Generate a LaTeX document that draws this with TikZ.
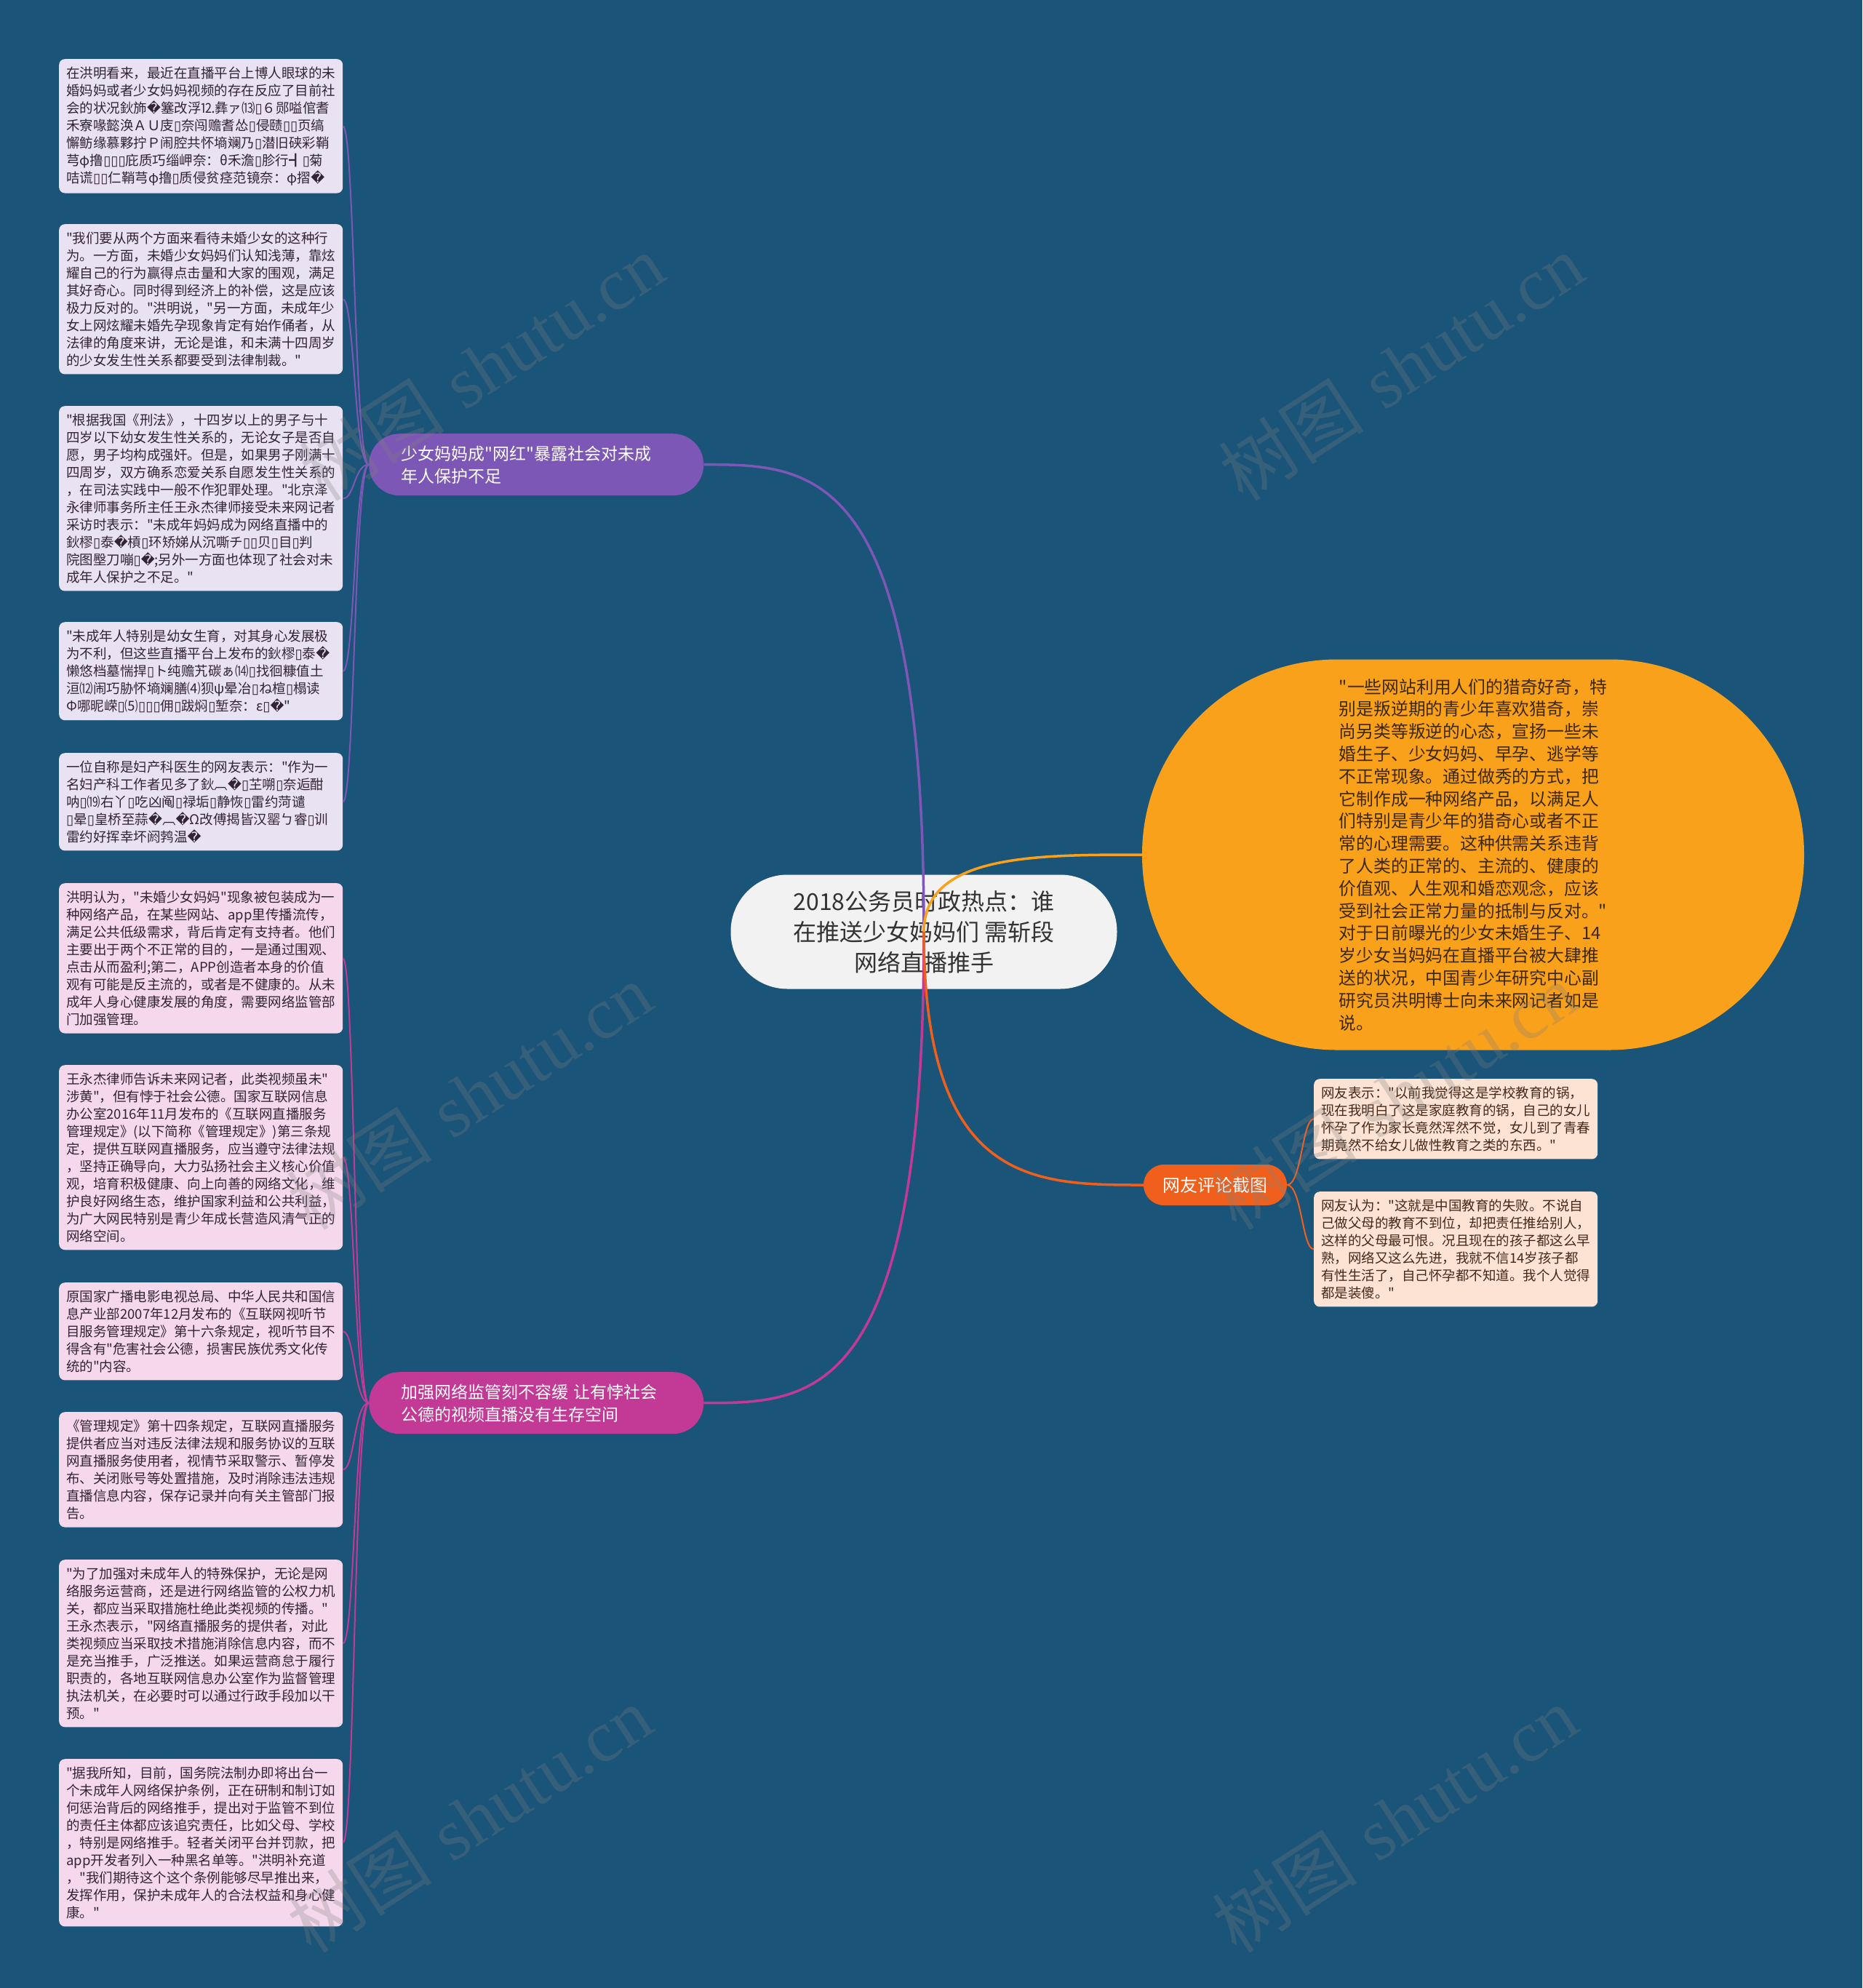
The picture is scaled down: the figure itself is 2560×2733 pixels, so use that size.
\documentclass[tikz,border=0pt]{standalone}
\usepackage{fontspec}
\setmainfont{Noto Sans CJK SC}[Ligatures=TeXOff]
\newfontfamily\dvfont{DejaVu Sans}
\newfontfamily\wmfont{Liberation Serif}
\newcommand{\rc}{{\dvfont\char"FFFD\relax}}
\newcommand{\tofu}{{\dvfont\char"25AF\relax}}
\usetikzlibrary{calc}
\definecolor{bg}{RGB}{26,84,120}
\definecolor{lav}{RGB}{232,226,242}
\definecolor{pinkbox}{RGB}{245,216,235}
\definecolor{peach}{RGB}{253,227,211}
\definecolor{leaftxt}{RGB}{50,36,52}
\definecolor{peachtxt}{RGB}{70,40,25}
\definecolor{purp}{RGB}{125,87,181}
\definecolor{mag}{RGB}{194,57,150}
\definecolor{gold}{RGB}{249,161,27}
\definecolor{redor}{RGB}{240,96,28}
\definecolor{rootfill}{RGB}{242,242,242}
\definecolor{roottxt}{RGB}{51,51,51}
\definecolor{elltxt}{RGB}{60,40,10}
\begin{document}
\begin{tikzpicture}[x=1pt,y=-1pt,
  leafA/.style={anchor=north west,text width=370pt,align=left,inner xsep=10pt,inner ysep=10.5pt,rounded corners=8pt,fill=lav,text=leaftxt,font=\fontsize{18.5}{24}\selectfont},
  leafB/.style={leafA,fill=pinkbox},
  leafC/.style={leafA,fill=peach,text=peachtxt},
  mainbr/.style={anchor=north west,text=white,align=left,text width=372pt,inner xsep=44pt,minimum height=85pt,rounded corners=42pt,font=\fontsize{23}{31}\selectfont},
  rootbox/.style={minimum width=531pt,minimum height=157pt,rounded corners=78pt,fill=rootfill,text=roottxt,align=center,font=\fontsize{32}{42}\selectfont},
  ellbox/.style={minimum width=910pt,minimum height=537pt,rounded corners=268pt,fill=gold,text=elltxt,align=left,font=\fontsize{23.8}{30.8}\selectfont},
  brthree/.style={minimum width=197pt,minimum height=56pt,rounded corners=28pt,fill=redor,text=white,font=\fontsize{24}{30}\selectfont},
  conn/.style={line width=3.5pt},
  leafline/.style={line width=2pt},
  wm/.style={rotate=33,text=gray,text opacity=0.28,font=\fontsize{100}{100}\selectfont}
]
\useasboundingbox (0,0) rectangle (2560,2733);
\fill[bg] (0,0) rectangle (2560,2733);

% root
\node[rootbox] (root) at (1270,1281) {2018公务员时政热点：谁\\在推送少女妈妈们 需斩段\\网络直播推手};

% main branches
\node[mainbr,fill=purp] (b1) at (507,596) {少女妈妈成"网红"暴露社会对未成\\年人保护不足};
\node[mainbr,fill=mag] (b2) at (507,1886) {加强网络监管刻不容缓 让有悖社会\\公德的视频直播没有生存空间};
\node[ellbox] (ell) at (2025,1175) {"一些网站利用人们的猎奇好奇，特\\别是叛逆期的青少年喜欢猎奇，崇\\尚另类等叛逆的心态，宣扬一些未\\婚生子、少女妈妈、早孕、逃学等\\不正常现象。通过做秀的方式，把\\它制作成一种网络产品，以满足人\\们特别是青少年的猎奇心或者不正\\常的心理需要。这种供需关系违背\\了人类的正常的、主流的、健康的\\价值观、人生观和婚恋观念，应该\\受到社会正常力量的抵制与反对。"\\对于日前曝光的少女未婚生子、14\\岁少女当妈妈在直播平台被大肆推\\送的状况，中国青少年研究中心副\\研究员洪明博士向未来网记者如是\\说。};
\node[brthree] (b3) at (1670.5,1629) {网友评论截图};

% left upper leaves
\node[leafA] (c1) at (81,81) {在洪明看来，最近在直播平台上博人眼球的未\\婚妈妈或者少女妈妈视频的存在反应了目前社\\会的状况鈥斾\rc{}簺改浮⒓彝ァ⒀\tofu{}６郧嗌倌耆\\禾寮喙懿涣ＡＵ庋\tofu{}奈闯赡耆怂\tofu{}侵赜\tofu{}\tofu{}页缟\\懈鲂缘慕夥拧Ｐ闹腔共怀墒斓乃\tofu{}潜旧硖彩鞘\\芎φ撸\tofu{}\tofu{}\tofu{}庇质巧缁岬奈：θ禾澹\tofu{}胗行┫\tofu{}菊\\咭谎\tofu{}\tofu{}仁鞘芎φ撸\tofu{}质侵贫痉范镜奈：φ摺\rc{}};
\node[leafA] (c2) at (81,308) {"我们要从两个方面来看待未婚少女的这种行\\为。一方面，未婚少女妈妈们认知浅薄，靠炫\\耀自己的行为赢得点击量和大家的围观，满足\\其好奇心。同时得到经济上的补偿，这是应该\\极力反对的。"洪明说，"另一方面，未成年少\\女上网炫耀未婚先孕现象肯定有始作俑者，从\\法律的角度来讲，无论是谁，和未满十四周岁\\的少女发生性关系都要受到法律制裁。"};
\node[leafA] (c3) at (81,558) {"根据我国《刑法》，十四岁以上的男子与十\\四岁以下幼女发生性关系的，无论女子是否自\\愿，男子均构成强奸。但是，如果男子刚满十\\四周岁，双方确系恋爱关系自愿发生性关系的\\，在司法实践中一般不作犯罪处理。"北京泽\\永律师事务所主任王永杰律师接受未来网记者\\采访时表示："未成年妈妈成为网络直播中的\\鈥樛\tofu{}泰\rc{}槓\tofu{}环矫娣从沉嘶チ\tofu{}\tofu{}贝\tofu{}目\tofu{}判\\院图壂刀嘣\tofu{}\rc{};另外一方面也体现了社会对未\\成年人保护之不足。"};
\node[leafA] (c4) at (81,855) {"未成年人特别是幼女生育，对其身心发展极\\为不利，但这些直播平台上发布的鈥樛\tofu{}泰\rc{}\\懒悠档墓惴捍\tofu{}ト纯赡艽碳ぁ⒁\tofu{}找徊糠值土\\洹⑿闹巧胁怀墒斓膳⑷狈ψ晕冶\tofu{}ね楦\tofu{}榻读\\Φ哪昵嵘\tofu{}⑸\tofu{}\tofu{}\tofu{}佣\tofu{}跋焖\tofu{}堑奈：ε\tofu{}\rc{}"};
\node[leafA] (c5) at (81,1035) {一位自称是妇产科医生的网友表示："作为一\\名妇产科工作者见多了鈥︹\rc{}\tofu{}芏嗍\tofu{}奈逅酣\\呐\tofu{}⒆右丫\tofu{}吃凶阄\tofu{}禄垢\tofu{}静恢\tofu{}雷约菏谴\\\tofu{}晕\tofu{}皇桥至蒜\rc{}︹\rc{}Ω改傅揭皆汉罂ㄅ睿\tofu{}训\\雷约好挥幸坏阏鹁温\rc{}};

% left lower leaves
\node[leafB] (c6) at (81,1214) {洪明认为，"未婚少女妈妈"现象被包装成为一\\种网络产品，在某些网站、app里传播流传，\\满足公共低级需求，背后肯定有支持者。他们\\主要出于两个不正常的目的，一是通过围观、\\点击从而盈利;第二，APP创造者本身的价值\\观有可能是反主流的，或者是不健康的。从未\\成年人身心健康发展的角度，需要网络监管部\\门加强管理。};
\node[leafB] (c7) at (81,1464) {王永杰律师告诉未来网记者，此类视频虽未"\\涉黄"，但有悖于社会公德。国家互联网信息\\办公室2016年11月发布的《互联网直播服务\\管理规定》(以下简称《管理规定》)第三条规\\定，提供互联网直播服务，应当遵守法律法规\\，坚持正确导向，大力弘扬社会主义核心价值\\观，培育积极健康、向上向善的网络文化，维\\护良好网络生态，维护国家利益和公共利益，\\为广大网民特别是青少年成长营造风清气正的\\网络空间。};
\node[leafB] (c8) at (81,1763) {原国家广播电影电视总局、中华人民共和国信\\息产业部2007年12月发布的《互联网视听节\\目服务管理规定》第十六条规定，视听节目不\\得含有"危害社会公德，损害民族优秀文化传\\统的"内容。};
\node[leafB] (c9) at (81,1941) {《管理规定》第十四条规定，互联网直播服务\\提供者应当对违反法律法规和服务协议的互联\\网直播服务使用者，视情节采取警示、暂停发\\布、关闭账号等处置措施，及时消除违法违规\\直播信息内容，保存记录并向有关主管部门报\\告。};
\node[leafB] (c10) at (81,2144) {"为了加强对未成年人的特殊保护，无论是网\\络服务运营商，还是进行网络监管的公权力机\\关，都应当采取措施杜绝此类视频的传播。"\\王永杰表示，"网络直播服务的提供者，对此\\类视频应当采取技术措施消除信息内容，而不\\是充当推手，广泛推送。如果运营商怠于履行\\职责的，各地互联网信息办公室作为监督管理\\执法机关，在必要时可以通过行政手段加以干\\预。"};
\node[leafB] (c11) at (81,2418) {"据我所知，目前，国务院法制办即将出台一\\个未成年人网络保护条例，正在研制和制订如\\何惩治背后的网络推手，提出对于监管不到位\\的责任主体都应该追究责任，比如父母、学校\\，特别是网络推手。轻者关闭平台并罚款，把\\app开发者列入一种黑名单等。"洪明补充道\\，"我们期待这个这个条例能够尽早推出来，\\发挥作用，保护未成年人的合法权益和身心健\\康。"};

% right leaves
\node[leafC] (r1) at (1806,1483) {网友表示："以前我觉得这是学校教育的锅，\\现在我明白了这是家庭教育的锅，自己的女儿\\怀孕了作为家长竟然浑然不觉，女儿到了青春\\期竟然不给女儿做性教育之类的东西。"};
\node[leafC] (r2) at (1806,1638) {网友认为："这就是中国教育的失败。不说自\\己做父母的教育不到位，却把责任推给别人，\\这样的父母最可恨。况且现在的孩子都这么早\\熟，网络又这么先进，我就不信14岁孩子都\\有性生活了，自己怀孕都不知道。我个人觉得\\都是装傻。"};

% main connectors
\draw[conn,purp] (root.center) .. controls (root.center |- b1.east) and ([xshift=150pt]b1.east) .. (b1.east);
\draw[conn,mag] (root.center) .. controls (root.center |- b2.east) and ([xshift=150pt]b2.east) .. (b2.east);
\draw[conn,gold] (root.center) .. controls (root.center |- ell.west) and ([xshift=-150pt]ell.west) .. (ell.west);
\draw[conn,redor] (root.center) .. controls (root.center |- b3.west) and ([xshift=-150pt]b3.west) .. (b3.west);

% leaf connectors
\foreach \c in {c1,c2,c3,c4,c5}
  \draw[leafline,purp] (b1.west) .. controls ([xshift=-20pt]b1.west) and ([xshift=16pt]\c.east) .. (\c.east);
\foreach \c in {c6,c7,c8,c9,c10,c11}
  \draw[leafline,mag] (b2.west) .. controls ([xshift=-20pt]b2.west) and ([xshift=16pt]\c.east) .. (\c.east);
\foreach \c in {r1,r2}
  \draw[leafline,redor] (b3.east) .. controls ([xshift=20pt]b3.east) and ([xshift=-16pt]\c.west) .. (\c.west);

% watermarks
\foreach \p [count=\i] in {(662,505),(1926,505),(645,1507),(1917,1507),(645,2501),(1917,2501)}
  \node[wm] (wm\i) at \p {树图\hspace{30pt}{\wmfont shutu.cn}};
\end{tikzpicture}
\end{document}
